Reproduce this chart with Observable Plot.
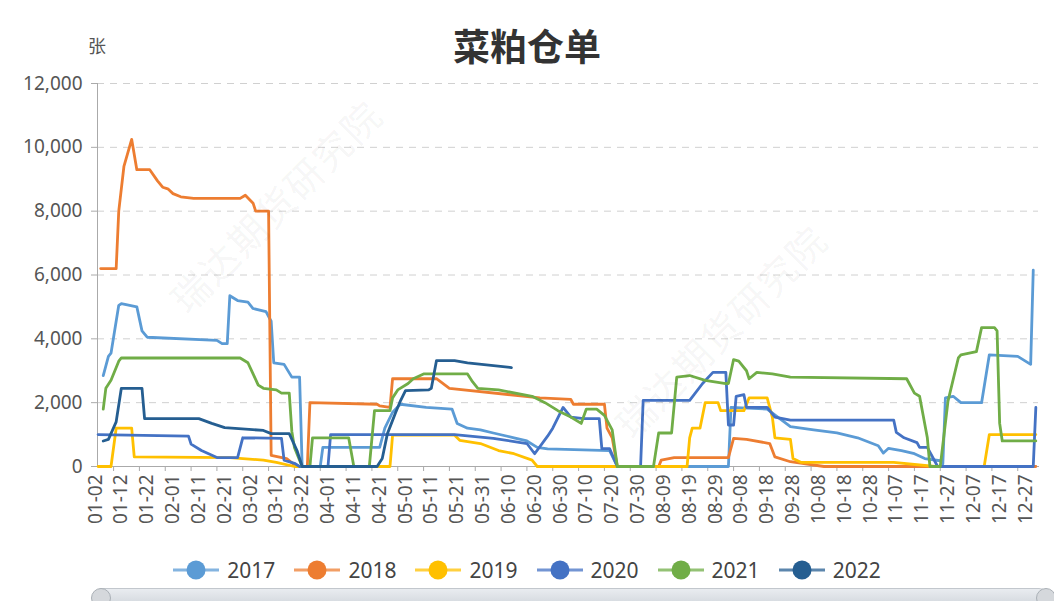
<!DOCTYPE html>
<html>
<head>
<meta charset="utf-8">
<script src="https://cdn.jsdelivr.net/npm/d3@7"></script>
<script src="https://cdn.jsdelivr.net/npm/@observablehq/plot@0.6"></script>
<style>
  body { margin: 0; background: #fff; }
  #wrap { position: relative; width: 1054px; height: 601px; overflow: hidden; font-family: "Noto Sans", "Noto Sans CJK SC", sans-serif; }
  #title { position: absolute; left: 0; top: 19px; width: 1054px; text-align: center; font-family: "Noto Sans CJK SC", sans-serif; font-size: 37px; font-weight: bold; color: #333; line-height: 52px; }
  #unit { position: absolute; left: 88px; top: 32px; font-family: "Noto Sans CJK SC", sans-serif; font-size: 18px; color: #555; }
  #chart { position: absolute; left: 0; top: 70px; }
  .wm { position: absolute; font-family: "Noto Sans CJK SC", sans-serif; font-size: 38px; color: rgba(0,0,0,0.055); white-space: nowrap; transform: translate(-50%, -50%) rotate(-45deg); pointer-events: none; letter-spacing: 2px; }
  #legend { position: absolute; left: 0; top: 556px; width: 1054px; height: 28px; display: flex; justify-content: center; align-items: center; gap: 19px; font-size: 21px; color: #444; }
  .item { display: flex; align-items: center; gap: 8px; }
  #slider { position: absolute; left: 92px; top: 588px; width: 958px; height: 22px; border-radius: 11px; background: linear-gradient(#e9ecf0, #cdd2d8); border: 1px solid #c2c7cd; box-sizing: border-box; }
  .handle { position: absolute; top: 588px; width: 20px; height: 20px; border-radius: 50%; background: #d5d8dc; border: 1px solid #aab0b6; box-sizing: border-box; }
</style>
</head>
<body>
<div id="wrap">
  <div id="title">菜粕仓单</div>
  <div id="unit">张</div>
  <div id="chart"></div>
  <div class="wm" style="left:275px; top:205px;">瑞达期货研究院</div>
  <div class="wm" style="left:720px; top:330px;">瑞达期货研究院</div>
  <div id="legend"></div>
  <div id="slider"></div>
  <div class="handle" style="left:91px;"></div>
  <div class="handle" style="left:1036px;"></div>
</div>
<script>
const years = ["2017", "2018", "2019", "2020", "2021", "2022"];
const colors = ["#5B9BD5", "#ED7D31", "#FFC000", "#4472C4", "#70AD47", "#255E91"];
const yTicks = [0, 2000, 4000, 6000, 8000, 10000, 12000];
const xLabels = ["01-02","01-12","01-22","02-01","02-11","02-21","03-02","03-12","03-22","04-01","04-11","04-21","05-01","05-11","05-21","05-31","06-10","06-20","06-30","07-10","07-20","07-30","08-09","08-19","08-29","09-08","09-18","09-28","10-08","10-18","10-28","11-07","11-17","11-27","12-07","12-17","12-27"];

const s2017 = [["01-05",2850],["01-07",3450],["01-08",3550],["01-11",5050],["01-12",5100],["01-18",5000],["01-20",4250],["01-22",4050],["02-18",3950],["02-20",3850],["02-22",3850],["02-23",5350],["02-26",5200],["03-01",5150],["03-03",4950],["03-08",4850],["03-10",4550],["03-11",3250],["03-15",3200],["03-18",2800],["03-21",2800],["03-22",0],["03-29",0],["03-30",600],["04-21",600],["04-23",1200],["04-26",1700],["04-29",1950],["05-09",1850],["05-19",1800],["05-21",1350],["05-25",1200],["05-30",1150],["06-04",1050],["06-12",900],["06-17",800],["06-21",600],["06-25",550],["07-19",500],["07-22",0],["09-03",0],["09-04",1850],["09-18",1800],["09-27",1250],["10-06",1150],["10-15",1050],["10-23",900],["10-31",650],["11-02",420],["11-04",570],["11-09",500],["11-14",400],["11-18",250],["11-24",180],["11-25",80],["11-26",2150],["11-29",2200],["12-02",2000],["12-10",2000],["12-13",3500],["12-24",3450],["12-29",3200],["12-30",6150]];
const s2018 = [["01-04",6200],["01-10",6200],["01-11",8000],["01-13",9400],["01-16",10250],["01-18",9300],["01-23",9300],["01-26",8950],["01-28",8750],["01-30",8700],["02-01",8550],["02-04",8450],["02-09",8400],["02-27",8400],["02-29",8500],["03-03",8250],["03-04",8000],["03-09",8000],["03-10",350],["03-16",250],["03-19",50],["03-21",0],["03-24",0],["03-25",2000],["04-20",1950],["04-21",1900],["04-25",1850],["04-26",2750],["05-13",2750],["05-18",2450],["06-22",2150],["07-04",2100],["07-05",1950],["07-17",1950],["07-18",1200],["07-20",900],["07-22",0],["08-07",0],["08-08",200],["08-13",280],["09-03",280],["09-05",880],["09-10",850],["09-19",720],["09-21",300],["09-27",150],["10-10",0],["12-31",0]];
const s2019 = [["01-03",0],["01-08",0],["01-10",1200],["01-16",1200],["01-17",300],["02-23",280],["03-07",200],["03-12",130],["03-19",0],["04-25",0],["04-26",980],["05-20",980],["05-22",820],["05-30",720],["06-06",500],["06-12",400],["06-19",200],["06-21",0],["08-18",0],["08-19",900],["08-20",1200],["08-23",1200],["08-25",2000],["08-30",2000],["08-31",1750],["09-09",1750],["09-11",2150],["09-18",2150],["09-20",1550],["09-21",900],["09-27",850],["09-28",250],["10-01",130],["11-06",130],["11-22",0],["12-11",0],["12-13",1000],["12-31",1000]];
const s2020 = [["01-03",1000],["02-07",950],["02-08",700],["02-12",500],["02-18",280],["02-26",280],["02-28",900],["03-14",880],["03-15",200],["03-19",100],["03-21",0],["04-01",0],["04-02",1000],["05-20",1000],["06-04",880],["06-17",720],["06-20",400],["06-25",950],["06-27",1200],["07-01",1850],["07-04",1550],["07-09",1500],["07-15",1500],["07-16",560],["07-19",560],["07-22",0],["07-31",0],["08-01",2070],["08-19",2070],["08-24",2600],["08-28",2950],["09-02",2950],["09-03",1300],["09-05",1300],["09-06",2200],["09-09",2250],["09-10",1850],["09-18",1850],["09-21",1550],["09-27",1450],["11-06",1450],["11-07",1070],["11-10",900],["11-15",750],["11-16",600],["11-19",600],["11-23",0],["12-30",0],["12-31",1850]];
const s2021 = [["01-05",1800],["01-06",2450],["01-08",2700],["01-11",3300],["01-12",3400],["02-27",3400],["03-01",3250],["03-03",2900],["03-05",2550],["03-07",2450],["03-12",2400],["03-14",2300],["03-17",2300],["03-18",1100],["03-19",600],["03-21",200],["03-22",0],["03-25",0],["03-26",900],["04-09",900],["04-11",0],["04-17",0],["04-19",1750],["04-25",1750],["04-26",2150],["04-28",2400],["05-02",2600],["05-04",2750],["05-08",2900],["05-25",2900],["05-27",2650],["05-29",2450],["06-06",2400],["06-19",2200],["06-24",2000],["06-29",1750],["07-04",1550],["07-08",1350],["07-10",1800],["07-14",1800],["07-17",1600],["07-20",1150],["07-22",0],["08-05",0],["08-07",1050],["08-12",1050],["08-14",2800],["08-19",2850],["08-25",2700],["09-02",2600],["09-03",2600],["09-05",3350],["09-07",3300],["09-10",3000],["09-11",2750],["09-14",2950],["09-20",2900],["09-27",2800],["11-11",2750],["11-14",2300],["11-16",2200],["11-19",900],["11-20",0],["11-24",0],["11-27",2050],["12-01",3400],["12-02",3500],["12-08",3600],["12-10",4350],["12-15",4350],["12-16",4250],["12-17",1350],["12-18",800],["12-31",800]];
const s2022 = [["01-05",800],["01-07",850],["01-10",1400],["01-12",2450],["01-20",2450],["01-21",1500],["02-11",1500],["02-16",1350],["02-21",1220],["03-07",1130],["03-10",1030],["03-17",1030],["03-20",500],["03-22",0],["04-20",0],["04-22",250],["04-24",1030],["04-27",1650],["04-29",2050],["05-01",2380],["05-10",2400],["05-11",2450],["05-13",3320],["05-20",3320],["05-25",3250],["06-11",3100]];

const seriesList = [s2017, s2018, s2019, s2020, s2021, s2022];

// calendar helper (a leap-year calendar so every MM-DD exists)
const toDate = s => { const [m, d] = s.split("-").map(Number); return new Date(Date.UTC(2020, m - 1, d)); };
const fmt = d3.utcFormat("%m-%d");
const DAY = 86400000;

const rows = [];
seriesList.forEach((s, i) => s.forEach(([d, v]) => rows.push({ year: years[i], date: toDate(d), value: v })));

const labelDates = xLabels.map(toDate);
const xStart = toDate("01-01"), xEnd = toDate("12-31");
const tickDates = labelDates.map(d => new Date(+d + 7 * DAY)).filter(d => d <= xEnd);

const pxPerDay = (1025 - 95) / 360;
const chart = Plot.plot({
  width: 1054,
  height: 480,
  marginLeft: 97,
  marginRight: 16,
  marginTop: 13,
  marginBottom: 84,
  x: { type: "utc", domain: [xStart, xEnd], range: [95 - pxPerDay, 95 + 364 * pxPerDay] },
  y: { domain: [0, 12000] },
  color: { domain: years, range: colors },
  style: { fontFamily: "'Noto Sans', 'Noto Sans CJK SC', sans-serif", color: "#555", background: "transparent", overflow: "visible" },
  marks: [
    Plot.ruleY(yTicks.filter(d => d > 0), { stroke: "#d0d0d0", strokeDasharray: "7,6", strokeWidth: 1 }),
    Plot.axisY(yTicks, { tickSize: 6, tickPadding: 9, tickFormat: d3.format(","), fontSize: 19, label: null, stroke: "#aaa", strokeOpacity: 1, fill: "#555" }),
    Plot.axisX(labelDates, { tickSize: 0, tickPadding: 8, tickRotate: -90, tickFormat: fmt, fontSize: 19, label: null, fill: "#555" }),
    Plot.axisX(tickDates, { tickSize: 5, tickFormat: () => "", label: null, stroke: "#aaa", strokeOpacity: 1 }),
    Plot.frame({ anchor: "left", stroke: "#aaa" }),
    Plot.frame({ anchor: "bottom", stroke: "#aaa" }),
    ...years.map(yr => Plot.line(rows.filter(r => r.year === yr), { x: "date", y: "value", stroke: "year", strokeWidth: 2.8, strokeLinejoin: "round" }))
  ]
});
document.getElementById("chart").appendChild(chart);

// legend
const legend = document.getElementById("legend");
years.forEach((yr, i) => {
  const item = document.createElement("div");
  item.className = "item";
  item.innerHTML = `<svg width="46" height="22"><line x1="0" y1="11" x2="46" y2="11" stroke="${colors[i]}" stroke-width="3" stroke-opacity="0.75"/><circle cx="23" cy="11" r="9.5" fill="${colors[i]}"/></svg><span>${yr}</span>`;
  legend.appendChild(item);
});
</script>
</body>
</html>
